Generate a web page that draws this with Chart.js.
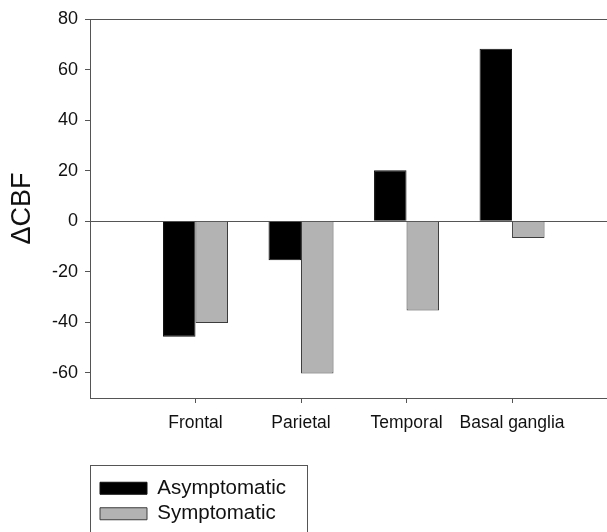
<!DOCTYPE html>
<html>
<head>
<meta charset="utf-8">
<script src="https://cdn.jsdelivr.net/npm/chart.js@4.4.1/dist/chart.umd.min.js"></script>
<style>
  html, body { margin: 0; padding: 0; background: #fff; }
  #wrap { width: 607px; height: 532px; position: relative; }
</style>
</head>
<body>
<div id="wrap"><canvas id="cbfChart"></canvas></div>
<script>
// data
const regions = ['Frontal', 'Parietal', 'Temporal', 'Basal ganglia'];
const asymptomatic = [-45.8, -15.5, 20.1, 68.2];
const symptomatic = [-40.3, -60.3, -35.4, -6.7];
const yTicks = [-60, -40, -20, 0, 20, 40, 60, 80];

const FONT = 'Arial, "Liberation Sans", Helvetica, sans-serif';
const LINE = '#555';
const TEXT = '#111';

// bars sit on a linear x axis at 1..4 so the empty space before Frontal is kept
const toPoints = vals => vals.map((v, i) => ({ x: i + 1, y: v }));

// legend stacked one item per row, with an open-bottomed frame round it
const legendFrame = {
    id: 'legendFrame',
    beforeLayout(chart) {
        const lg = chart.legend;
        if (lg && !lg._narrow) {
            const fit = lg.fit.bind(lg);
            lg.fit = function () {
                this.maxWidth = Math.min(this.maxWidth, 230);
                fit();
            };
            lg._narrow = true;
        }
    },
    afterLayout(chart) {
        const lg = chart.legend;
        lg.left += 5;
        lg.right = lg.left + 225;
        lg.width = 225;
        lg.top += 2;
    },
    afterDraw(chart) {
        const lg = chart.legend;
        const ctx = chart.ctx;
        const x = chart.chartArea.left + 0.5;
        const y = Math.round(lg.top - 8) + 0.5;
        ctx.save();
        ctx.strokeStyle = LINE;
        ctx.lineWidth = 1;
        ctx.strokeRect(x, y, 217, 120);
        ctx.restore();
    }
};

const ctx = document.getElementById('cbfChart').getContext('2d');
const chart = new Chart(ctx, {
    type: 'bar',
    data: {
        datasets: [
            {
                label: 'Asymptomatic',
                data: toPoints(asymptomatic),
                backgroundColor: '#000',
                borderColor: '#111',
                borderWidth: 1
            },
            {
                label: 'Symptomatic',
                data: toPoints(symptomatic),
                backgroundColor: '#b3b3b3',
                borderColor: '#3c3c3c',
                borderWidth: 1
            }
        ]
    },
    options: {
        responsive: true,
        maintainAspectRatio: false,
        animation: false,
        layout: { padding: { top: 19, right: 0, bottom: 0, left: 0 } },
        datasets: {
            bar: { categoryPercentage: 0.616, barPercentage: 1.0, grouped: true }
        },
        plugins: {
            tooltip: { enabled: false },
            legend: {
                position: 'bottom',
                align: 'start',
                fullSize: false,
                labels: {
                    color: TEXT,
                    font: { family: FONT, size: 20.5 },
                    boxWidth: 47,
                    boxHeight: 12,
                    padding: 5
                }
            }
        },
        scales: {
            x: {
                type: 'linear',
                min: 0,
                max: 4.9,
                offset: false,
                afterBuildTicks: scale => {
                    scale.ticks = regions.map((r, i) => ({ value: i + 1 }));
                },
                afterFit: scale => { scale.height = 73; },
                ticks: {
                    color: TEXT,
                    font: { family: FONT, size: 17.5 },
                    padding: 10,
                    maxRotation: 0,
                    autoSkip: false,
                    callback: v => regions[v - 1] || ''
                },
                grid: {
                    offset: false,
                    drawOnChartArea: false,
                    drawTicks: true,
                    tickLength: 5,
                    tickColor: LINE
                },
                border: { display: true, color: LINE, width: 1 }
            },
            y: {
                min: -70,
                max: 80,
                afterBuildTicks: scale => {
                    scale.ticks = yTicks.map(v => ({ value: v }));
                },
                afterFit: scale => { scale.width = 90; },
                ticks: {
                    color: TEXT,
                    font: { family: FONT, size: 18 },
                    padding: 7
                },
                grid: {
                    color: c => (c.tick && (c.tick.value === 0 || c.tick.value === 80)) ? LINE : 'rgba(0,0,0,0)',
                    lineWidth: 1,
                    drawTicks: true,
                    tickLength: 5,
                    tickColor: LINE
                },
                border: { display: true, color: LINE, width: 1 },
                title: {
                    display: true,
                    text: 'ΔCBF',
                    color: TEXT,
                    font: { family: FONT, size: 27 },
                    padding: { top: 6, bottom: 0 }
                }
            }
        }
    },
    plugins: [legendFrame]
});
</script>
</body>
</html>
